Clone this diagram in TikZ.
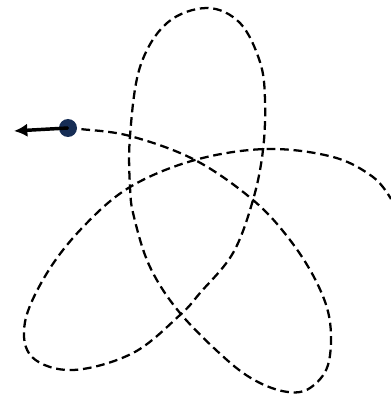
\documentclass[tikz,border=0pt]{standalone}
\usetikzlibrary{arrows.meta}
\definecolor{bodyblue}{RGB}{22,45,85}
\tikzset{
  orbit/.style={line width=1.7pt, dash pattern=on 6.5pt off 3.6pt, smooth, tension=0.6},
  body/.style={circle, fill=bodyblue, minimum size=13.5pt, inner sep=0pt},
  velocity/.style={line width=2.6pt, -{Latex[length=10pt,width=10pt]}}
}
\begin{document}
\begin{tikzpicture}[x=0.75pt, y=-0.75pt]
    \useasboundingbox (0,0) rectangle (391,395);
    % trajectory
    \draw [orbit] plot coordinates {(68,128) (80,129) (130,136) (195,160) (253,200) (290,240) (317,283)
        (330,322) (328,365) (310,388) (288,392) (258,382) (227,360) (180,313) (150,267) (134,217)
        (130,187) (130,136) (140,67) (167,23) (207,8) (240,23) (260,62) (265,100) (263,150) (253,200)
        (233,253) (200,293) (180,315) (133,353) (73,370) (32,357) (25,322) (47,273) (83,227)
        (130,187) (195,160) (267,149) (333,157) (373,177) (391,199)};
    % body with velocity
    \node (planet) [body] at (68,128) {};
    \fill (planet.center) circle (0.9pt);
    \coordinate (vtip) at (14,131);
    \draw [velocity] (planet.center) -- (vtip);
\end{tikzpicture}
\end{document}
